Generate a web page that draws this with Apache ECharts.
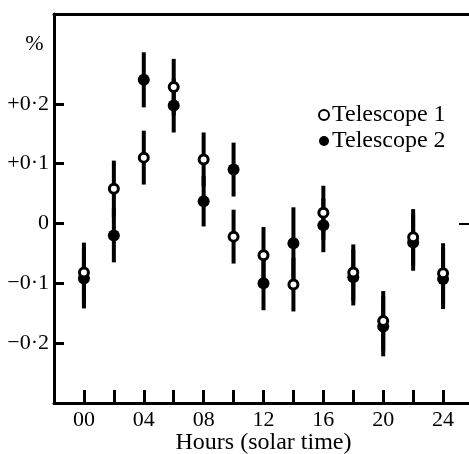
<!DOCTYPE html>
<html>
<head>
<meta charset="utf-8">
<script src="https://cdn.jsdelivr.net/npm/echarts@6/dist/echarts.min.js"></script>
<style>
  html, body {margin: 0; padding: 0; background: #fff;}
  #chart {width: 469px; height: 454px;}
</style>
</head>
<body>
<div id="chart"></div>
<script>
// hours (solar time)
const hours = [0, 2, 4, 6, 8, 10, 12, 14, 16, 18, 20, 22, 24];
// % deviation, telescope 1 (open) and telescope 2 (filled)
const tel1 = [-0.082, 0.058, 0.11, 0.228, 0.107, -0.022, -0.053, -0.102, 0.018, -0.082, -0.163, -0.023, -0.083];
const tel2 = [-0.092, -0.02, 0.24, 0.197, 0.037, 0.09, -0.1, -0.033, -0.003, -0.09, -0.172, -0.032, -0.093];
// half-length of error bars
const err1 = [0.05, 0.047, 0.045, 0.047, 0.045, 0.045, 0.047, 0.045, 0.045, 0.047, 0.05, 0.047, 0.05];
const err2 = [0.05, 0.045, 0.046, 0.045, 0.042, 0.045, 0.045, 0.06, 0.045, 0.047, 0.05, 0.047, 0.05];
const yTicks = [-0.2, -0.1, 0, 0.1, 0.2];
const xTicks = [0, 2, 4, 6, 8, 10, 12, 14, 16, 18, 20, 22, 24];
const xLabels = [0, 4, 8, 12, 16, 20, 24];

const font = 'Liberation Serif';
const bars = [];
hours.forEach((h, i) => {
  bars.push([h, tel1[i] - err1[i], tel1[i] + err1[i]]);
  bars.push([h, tel2[i] - err2[i], tel2[i] + err2[i]]);
});

const line = {onZero: false, lineStyle: {color: '#000', width: 3}};

const chart = echarts.init(document.getElementById('chart'));
chart.setOption({
  animation: false,
  backgroundColor: '#fff',
  textStyle: {fontFamily: font, color: '#000'},
  grid: {left: 54, top: 14, right: -4, bottom: 51, outerBoundsMode: 'none'},
  legend: {
    orient: 'vertical',
    left: 313,
    top: 98,
    itemGap: 2,
    itemWidth: 10,
    itemHeight: 10,
    textStyle: {fontFamily: font, fontSize: 24, color: '#000', padding: [0, 0, 0, -2]},
    data: ['Telescope 1', 'Telescope 2']
  },
  xAxis: [{
    type: 'value', min: -2, max: 26, position: 'bottom',
    name: 'Hours (solar time)', nameLocation: 'middle', nameGap: 28, nameMoveOverlap: false,
    nameTextStyle: {fontFamily: font, fontSize: 24, color: '#000'},
    axisLine: line,
    axisTick: {inside: true, length: 13, lineStyle: {color: '#000', width: 3}, customValues: xTicks},
    axisLabel: {
      customValues: xLabels, margin: 6, fontFamily: font, fontSize: 22, color: '#000',
      formatter: v => (v < 10 ? '0' : '') + v
    },
    splitLine: {show: false}
  }, {
    type: 'value', min: -2, max: 26, position: 'top',
    axisLine: line,
    axisTick: {show: false}, axisLabel: {show: false}, splitLine: {show: false}
  }],
  yAxis: [{
    type: 'value', min: -0.3, max: 0.35, position: 'left',
    axisLine: line,
    axisTick: {inside: true, length: 10, lineStyle: {color: '#000', width: 3}, customValues: yTicks},
    axisLabel: {
      customValues: yTicks.concat([0.3]), margin: 5, fontFamily: font, fontSize: 22, color: '#000',
      formatter: v => {
        if (v > 0.25) return '% ';
        if (Math.abs(v) < 1e-9) return '0';
        return (v > 0 ? '+' : '\u2212') + '0\u00b7' + Math.round(Math.abs(v) * 10);
      }
    },
    splitLine: {show: false}
  }, {
    type: 'value', min: -0.3, max: 0.35, position: 'right',
    axisLine: line,
    axisTick: {inside: true, length: 14, lineStyle: {color: '#000', width: 2}, customValues: [0]},
    axisLabel: {show: false}, splitLine: {show: false}
  }],
  series: [{
    type: 'custom',
    silent: true,
    data: bars,
    encode: {x: 0, y: [1, 2]},
    renderItem: (params, api) => {
      const a = api.coord([api.value(0), api.value(1)]);
      const b = api.coord([api.value(0), api.value(2)]);
      return {
        type: 'line',
        shape: {x1: a[0], y1: a[1], x2: b[0], y2: b[1]},
        style: {stroke: '#000', lineWidth: 4}
      };
    },
    z: 1
  }, {
    name: 'Telescope 2',
    type: 'scatter',
    symbol: 'circle',
    symbolSize: 12,
    data: hours.map((h, i) => [h, tel2[i]]),
    itemStyle: {color: '#000', opacity: 1},
    z: 2
  }, {
    name: 'Telescope 1',
    type: 'scatter',
    symbol: 'circle',
    symbolSize: 9,
    data: hours.map((h, i) => [h, tel1[i]]),
    itemStyle: {color: '#fff', borderColor: '#000', borderWidth: 3, opacity: 1},
    z: 3
  }]
});
</script>
</body>
</html>
